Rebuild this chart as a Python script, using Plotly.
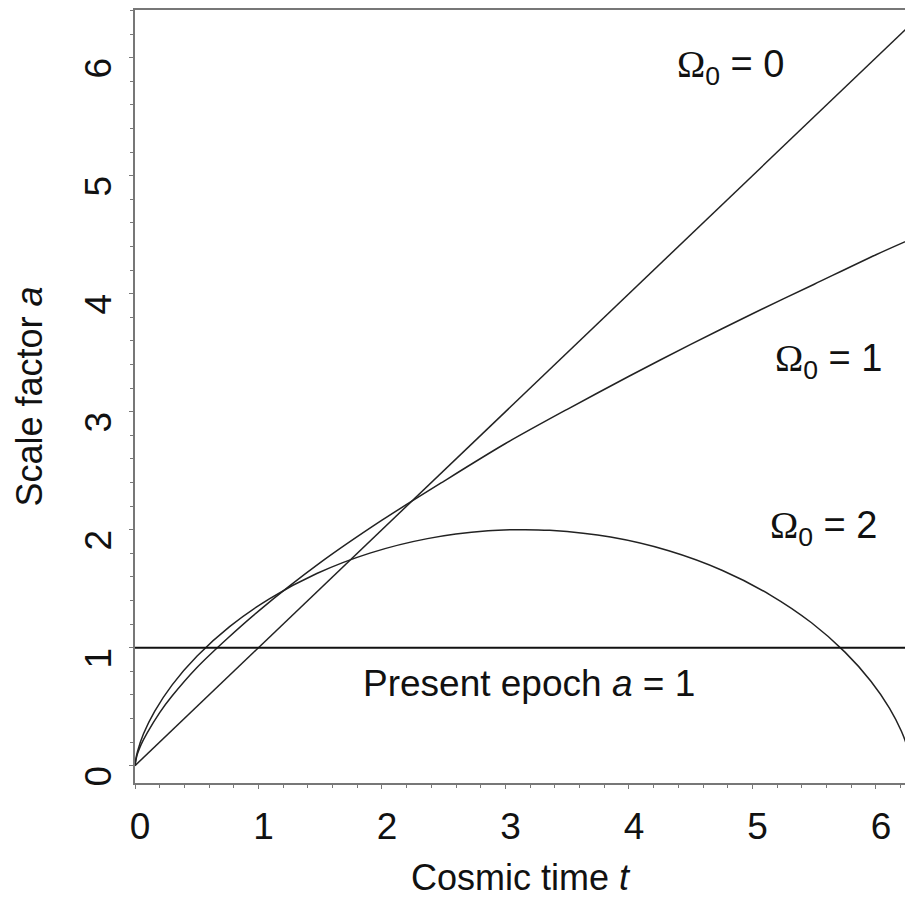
import plotly.graph_objects as go

# ---- data ----
# Omega_0 = 0 : straight line
t_om0 = [0.0, 1.0, 2.0, 3.0, 4.0, 5.0, 6.3]
a_om0 = [0.0, 1.0, 2.0, 3.0, 4.0, 5.0, 6.3]

# Omega_0 = 1
t_om1 = [0.0, 0.01, 0.02, 0.05, 0.1, 0.2, 0.3, 0.5, 0.75, 1.0, 1.5, 2.0, 2.5,
         3.0, 3.5, 4.0, 4.5, 5.0, 5.5, 6.0, 6.3]
a_om1 = [0.0, 0.06, 0.10, 0.18, 0.28, 0.45, 0.59, 0.83, 1.08, 1.31, 1.72, 2.08,
         2.41, 2.73, 3.02, 3.30, 3.57, 3.83, 4.08, 4.33, 4.47]

# Omega_0 = 2
t_om2 = [0.0, 0.001, 0.005, 0.021, 0.068, 0.159, 0.301, 0.503, 0.766, 1.091,
         1.472, 1.902, 2.368, 2.859, 3.142, 3.358, 3.851, 4.322, 4.757, 5.145,
         5.478, 5.749, 5.959, 6.109, 6.206, 6.258, 6.28]
a_om2 = [0.0, 0.011, 0.045, 0.122, 0.268, 0.460, 0.685, 0.929, 1.178, 1.416,
         1.628, 1.801, 1.924, 1.990, 2.0, 1.994, 1.937, 1.821, 1.654, 1.446,
         1.211, 0.962, 0.716, 0.488, 0.291, 0.139, 0.0]

# present epoch
t_now = [-0.04, 6.3]
a_now = [1.0, 1.0]

x_ticks = [0, 1, 2, 3, 4, 5, 6]
y_ticks = [0, 1, 2, 3, 4, 5, 6]

OMEGA = "<span style='font-family:Liberation Serif'>Ω</span><sub>0</sub>"
labels = [
    (OMEGA + " = 0", 4.83, 5.92),
    (OMEGA + " = 1", 5.62, 3.43),
    (OMEGA + " = 2", 5.58, 2.01),
    ("Present epoch <i>a</i> = 1", 3.19, 0.70),
]

FONT = "Liberation Sans, Arial, sans-serif"
curve_col = "#222222"

fig = go.Figure()
fig.add_trace(go.Scatter(x=t_om0, y=a_om0, mode="lines",
                         line=dict(color=curve_col, width=1.5)))
fig.add_trace(go.Scatter(x=t_om1, y=a_om1, mode="lines",
                         line=dict(color=curve_col, width=1.5, shape="spline", smoothing=0.8)))
fig.add_trace(go.Scatter(x=t_om2, y=a_om2, mode="lines",
                         line=dict(color=curve_col, width=1.5, shape="spline", smoothing=0.8)))
fig.add_trace(go.Scatter(x=t_now, y=a_now, mode="lines", cliponaxis=False,
                         line=dict(color="#111111", width=2)))

for i, (txt, x, y) in enumerate(labels):
    fig.add_annotation(text=txt, x=x, y=y, xref="x", yref="y", showarrow=False,
                       font=dict(family=FONT, size=38 if i < 3 else 37, color="#111111"),
                       xanchor="center", yanchor="middle")

fig.update_layout(
    width=905, height=900,
    margin=dict(l=135, r=0, t=10, b=117),
    plot_bgcolor="white", paper_bgcolor="white",
    showlegend=False,
    font=dict(family=FONT, color="#111111"),
)

fig.update_xaxes(
    range=[0, 6.235], tickvals=x_ticks, ticks="outside", ticklen=4,
    tickcolor="#777777", showline=True, linecolor="#777777", linewidth=1.5,
    mirror=True, showgrid=False, zeroline=False, automargin=False,
    tickfont=dict(size=37, family=FONT, color="#111111"),
    ticklabelstandoff=6, ticklabelshift=5,
    minor=dict(dtick=0.2, ticks="outside", ticklen=3, tickcolor="#777777", showgrid=False),
    title=dict(text="Cosmic time <i>t</i>", font=dict(size=36, family=FONT, color="#111111"),
               standoff=19),
)
fig.update_yaxes(
    range=[-0.147, 6.404], tickvals=y_ticks, ticks="outside", ticklen=4,
    tickcolor="#777777", showline=True, linecolor="#777777", linewidth=1.5,
    showgrid=False, zeroline=False, tickangle=-90, automargin=False,
    tickfont=dict(size=37, family=FONT, color="#111111"),
    ticklabelstandoff=3, ticklabelshift=16,
    minor=dict(dtick=0.2, ticks="outside", ticklen=3, tickcolor="#777777", showgrid=False),
    title=dict(text="Scale factor <i>a</i>", font=dict(size=36, family=FONT, color="#111111"),
               standoff=25),
)

fig.write_html(
    "out.html",
    config={"displayModeBar": False},
    post_script="document.body.style.margin='0';document.body.style.overflow='hidden';",
)
